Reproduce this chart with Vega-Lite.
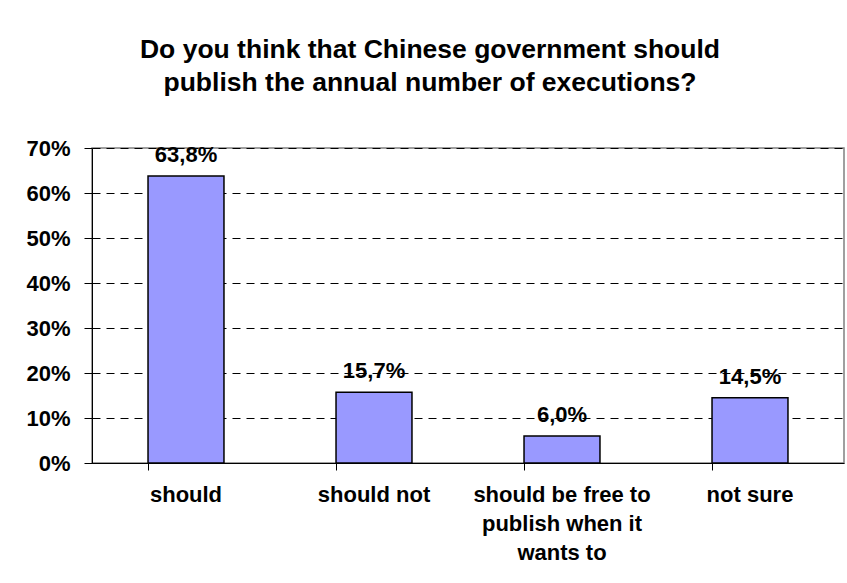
{
  "$schema": "https://vega.github.io/schema/vega-lite/v6.json",
  "autosize": {"type": "none"},
  "padding": {"left": 92, "top": 148, "right": 3, "bottom": 120},
  "width": 752,
  "height": 315,
  "background": "white",
  "title": {
    "text": ["Do you think that Chinese government should", "publish the annual number of executions?"],
    "font": "Liberation Sans",
    "fontSize": 26.5,
    "fontWeight": "bold",
    "color": "black",
    "lineHeight": 33,
    "anchor": "middle",
    "dx": -38,
    "offset": 41
  },
  "data": {
    "values": [
      {"answer": "should", "share": 0.638},
      {"answer": "should not", "share": 0.157},
      {"answer": "should be free to publish when it wants to", "share": 0.06},
      {"answer": "not sure", "share": 0.145}
    ]
  },
  "encoding": {
    "x": {"field": "answer", "type": "nominal", "sort": null,
      "scale": {"paddingInner": 0.596, "paddingOuter": 0.298}},
    "y": {"field": "share", "type": "quantitative",
      "scale": {"domain": [0, 0.7], "nice": false}}
  },
  "layer": [
    {
      "mark": {"type": "bar", "color": "#9999FF", "stroke": "black", "strokeWidth": 1.5},
      "encoding": {
        "x": {"field": "answer", "type": "nominal", "sort": null,
          "axis": {"title": null, "ticks": false, "domain": true, "domainColor": "black", "domainWidth": 1,
            "labelAngle": 0, "labelFont": "Liberation Sans", "labelFontSize": 22, "labelFontWeight": "bold",
            "labelColor": "black", "labelLineHeight": 29, "labelPadding": 21, "labelLimit": 300,
            "labelBaseline": "top",
            "labelExpr": "datum.value == 'should be free to publish when it wants to' ? ['should be free to', 'publish when it', 'wants to'] : datum.label"}},
        "y": {"field": "share", "type": "quantitative",
          "axis": {"title": null, "format": ".0%", "values": [0, 0.1, 0.2, 0.3, 0.4, 0.5, 0.6, 0.7],
            "grid": true, "gridColor": "black", "gridDash": [8, 6], "gridWidth": 1,
            "domainColor": "black", "tickColor": "black", "tickSize": 8,
            "labelFont": "Liberation Sans", "labelFontSize": 22, "labelFontWeight": "bold",
            "labelColor": "black", "labelPadding": 14}}
      }
    },
    {
      "mark": {"type": "text", "baseline": "alphabetic", "dy": -14, "font": "Liberation Sans",
        "fontSize": 22, "fontWeight": "bold", "color": "black"},
      "encoding": {
        "x": {"field": "answer", "type": "nominal", "sort": null,
          "axis": {"title": null, "orient": "bottom", "labels": false, "domain": false, "grid": false,
            "ticks": true, "tickColor": "black", "tickSize": 7, "bandPosition": 0}},
        "text": {"field": "share", "type": "quantitative", "format": ".1%"}
      }
    }
  ],
  "resolve": {"axis": {"x": "independent"}},
  "config": {
    "locale": {"number": {"decimal": ",", "thousands": ".", "grouping": [3], "currency": ["", " €"]}},
    "view": {"stroke": "#808080", "strokeWidth": 1.5},
    "axis": {"grid": false}
  }
}
